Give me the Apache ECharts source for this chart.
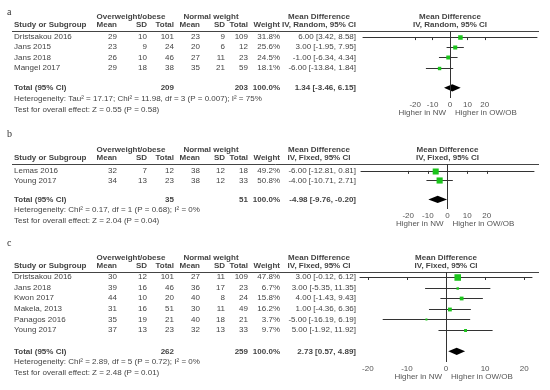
<!DOCTYPE html>
<html><head><meta charset="utf-8">
<script src="https://cdn.jsdelivr.net/npm/echarts@6/dist/echarts.min.js"></script>
<style>html,body{margin:0;padding:0;background:#fff}#c{width:550px;height:390px}</style>
</head><body><div id="c"></div>
<script>
// ---------- DATA ----------
const axisTicks = [-20, -10, 0, 10, 20];
const groupHeaders = ['Overweight/obese', 'Normal weight'];
const colHeaders = ['Study or Subgroup', 'Mean', 'SD', 'Total', 'Mean', 'SD', 'Total', 'Weight'];
const effectHeader = 'Mean Difference';
const favourLabels = ['Higher in NW', 'Higher in OW/OB'];

// panel a
const aStudies = ['Dristsakou 2016', 'Jans 2015', 'Jans 2018', 'Mangel 2017'];
const aOwMean = [29, 23, 26, 29];
const aOwSD = [10, 9, 10, 18];
const aOwN = [101, 24, 46, 38];
const aNwMean = [23, 20, 27, 35];
const aNwSD = [9, 6, 11, 21];
const aNwN = [109, 12, 23, 59];
const aWeight = [31.8, 25.6, 24.5, 18.1];
const aMD = [6.00, 3.00, -1.00, -6.00];
const aLo = [3.42, -1.95, -6.34, -13.84];
const aHi = [8.58, 7.95, 4.34, 1.84];
const aTotalN = [209, 203];
const aTotalMD = [1.34, -3.46, 6.15];
const aMethod = 'IV, Random, 95% CI';
const aHet = 'Heterogeneity: Tau\u00b2 = 17.17; Chi\u00b2 = 11.98, df = 3 (P = 0.007); I\u00b2 = 75%';
const aTest = 'Test for overall effect: Z = 0.55 (P = 0.58)';

// panel b
const bStudies = ['Lemas 2016', 'Young 2017'];
const bOwMean = [32, 34];
const bOwSD = [7, 13];
const bOwN = [12, 23];
const bNwMean = [38, 38];
const bNwSD = [12, 12];
const bNwN = [18, 33];
const bWeight = [49.2, 50.8];
const bMD = [-6.00, -4.00];
const bLo = [-12.81, -10.71];
const bHi = [0.81, 2.71];
const bTotalN = [35, 51];
const bTotalMD = [-4.98, -9.76, -0.20];
const bMethod = 'IV, Fixed, 95% CI';
const bHet = 'Heterogeneity: Chi\u00b2 = 0.17, df = 1 (P = 0.68); I\u00b2 = 0%';
const bTest = 'Test for overall effect: Z = 2.04 (P = 0.04)';

// panel c
const cStudies = ['Dristsakou 2016', 'Jans 2018', 'Kwon 2017', 'Makela, 2013', 'Panagos 2016', 'Young 2017'];
const cOwMean = [30, 39, 44, 31, 35, 37];
const cOwSD = [12, 16, 10, 16, 19, 13];
const cOwN = [101, 46, 20, 51, 21, 23];
const cNwMean = [27, 36, 40, 30, 40, 32];
const cNwSD = [11, 17, 8, 11, 18, 13];
const cNwN = [109, 23, 24, 49, 21, 33];
const cWeight = [47.8, 6.7, 15.8, 16.2, 3.7, 9.7];
const cMD = [3.00, 3.00, 4.00, 1.00, -5.00, 5.00];
const cLo = [-0.12, -5.35, -1.43, -4.36, -16.19, -1.92];
const cHi = [6.12, 11.35, 9.43, 6.36, 6.19, 11.92];
const cTotalN = [262, 259];
const cTotalMD = [2.73, 0.57, 4.89];
const cMethod = 'IV, Fixed, 95% CI';
const cHet = 'Heterogeneity: Chi\u00b2 = 2.89, df = 5 (P = 0.72); I\u00b2 = 0%';
const cTest = 'Test for overall effect: Z = 2.48 (P = 0.01)';

// ---------- LAYOUT ----------
const panels = [
  {letter: 'a', studies: aStudies, owMean: aOwMean, owSD: aOwSD, owN: aOwN, nwMean: aNwMean, nwSD: aNwSD, nwN: aNwN,
   weight: aWeight, md: aMD, lo: aLo, hi: aHi, totN: aTotalN, totMD: aTotalMD, method: aMethod, het: aHet, test: aTest,
   left: 363, right: 537, top: 31, bottom: 98, yMin: -0.6, xr: 50, k: 0.8, letterDy: -19},
  {letter: 'b', studies: bStudies, owMean: bOwMean, owSD: bOwSD, owN: bOwN, nwMean: bNwMean, nwSD: bNwSD, nwN: bNwN,
   weight: bWeight, md: bMD, lo: bLo, hi: bHi, totN: bTotalN, totMD: bTotalMD, method: bMethod, het: bHet, test: bTest,
   left: 361, right: 534, top: 164, bottom: 209, yMin: -0.72, xr: 44, k: 0.86, letterDy: -30},
  {letter: 'c', studies: cStudies, owMean: cOwMean, owSD: cOwSD, owN: cOwN, nwMean: cNwMean, nwSD: cNwSD, nwN: cNwN,
   weight: cWeight, md: cMD, lo: cLo, hi: cHi, totN: cTotalN, totMD: cTotalMD, method: cMethod, het: cHet, test: cTest,
   left: 360, right: 532, top: 272, bottom: 362, yMin: -0.47, xr: 22, k: 0.95, letterDy: -29}
];
const colX = {study: 14, owMean: 117, owSD: 147, owN: 174, nwMean: 200, nwSD: 225, nwN: 248, weight: 280, md: 356, mdCenter: 319, owCenter: 131, nwCenter: 211};
const FONT = '"Liberation Sans", Arial, sans-serif';
const TXT = '#444';
const GREEN = '#1bc41b';

const chart = echarts.init(document.getElementById('c'));

const grids = [], xAxes = [], yAxes = [], series = [];
panels.forEach((p, i) => {
  const n = p.studies.length;
  grids.push({left: p.left, top: p.top, width: p.right - p.left, height: p.bottom - p.top});
  xAxes.push({type: 'value', gridIndex: i, min: -p.xr, max: p.xr,
    axisLine: {show: true, lineStyle: {color: '#333', width: 1}},
    axisTick: {show: true, length: 3, customValues: axisTicks, lineStyle: {color: '#333'}},
    axisLabel: {show: true, customValues: axisTicks, margin: 3, fontSize: 8, fontFamily: FONT, color: '#555'},
    splitLine: {show: false}});
  yAxes.push({type: 'value', gridIndex: i, inverse: true, min: p.yMin, max: n + 2, show: false});
  const k = p.k;
  series.push({
    type: 'custom', xAxisIndex: i, yAxisIndex: i, silent: true,
    data: p.md.map((m, j) => [m, p.lo[j], p.hi[j], j, p.weight[j]]),
    encode: {x: [0, 1, 2], y: 3},
    renderItem: function (params, api) {
      const y = api.value(3);
      const a = api.coord([api.value(1), y]);
      const b = api.coord([api.value(2), y]);
      const e = api.coord([api.value(0), y]);
      const yy = Math.round(e[1]) + 0.5;
      const s = Math.max(2, k * Math.sqrt(api.value(4)));
      return {type: 'group', children: [
        {type: 'line', shape: {x1: a[0], y1: yy, x2: b[0], y2: yy}, style: {stroke: '#333', lineWidth: 1}},
        {type: 'rect', shape: {x: e[0] - s / 2, y: yy - s / 2, width: s, height: s}, style: {fill: GREEN}}
      ]};
    },
    markLine: {silent: true, symbol: ['none', 'none'], label: {show: false},
      lineStyle: {type: 'solid', color: '#333', width: 1}, data: [{xAxis: 0}]}
  });
  series.push({
    type: 'custom', xAxisIndex: i, yAxisIndex: i, silent: true,
    data: [[p.totMD[0], p.totMD[1], p.totMD[2], n + 1]],
    encode: {x: [0, 1, 2], y: 3},
    renderItem: function (params, api) {
      const y = api.value(3);
      const l = api.coord([api.value(1), y]);
      const r = api.coord([api.value(2), y]);
      const m = api.coord([api.value(0), y]);
      const h = 3.6;
      return {type: 'polygon', shape: {points: [[l[0], m[1]], [m[0], m[1] - h], [r[0], m[1]], [m[0], m[1] + h]]},
        style: {fill: '#000'}};
    }
  });
});

chart.setOption({animation: false, grid: grids, xAxis: xAxes, yAxis: yAxes, series: series});

// ---------- TABLE TEXT ----------
function txt(text, x, y, align, bold, opts) {
  opts = opts || {};
  return {type: 'text', silent: true, style: {
    text: String(text), x: x, y: y,
    font: (bold ? 'bold ' : '') + (opts.size || 8) + 'px ' + (opts.family || FONT),
    fill: opts.fill || TXT,
    align: align, textAlign: align, verticalAlign: 'middle', textVerticalAlign: 'middle'}};
}
const f2 = v => v.toFixed(2);
const mdText = (m, l, h) => f2(m) + ' [' + f2(l) + ', ' + f2(h) + ']';

const els = [];
panels.forEach((p, i) => {
  const n = p.studies.length;
  const Y = r => chart.convertToPixel({yAxisIndex: i}, r);
  const X = v => chart.convertToPixel({xAxisIndex: i}, v);
  const top = p.top, zx = X(0);
  els.push(txt(p.letter, 7, top + p.letterDy, 'left', false, {size: 10, family: '"Liberation Serif", serif', fill: '#333'}));
  const gy = top - 14.5, hy = top - 6;
  els.push(txt(groupHeaders[0], colX.owCenter, gy, 'center', true));
  els.push(txt(groupHeaders[1], colX.nwCenter, gy, 'center', true));
  els.push(txt(effectHeader, colX.mdCenter, gy, 'center', true));
  els.push(txt(effectHeader, zx, gy, 'center', true));
  const hx = [colX.study, colX.owMean, colX.owSD, colX.owN, colX.nwMean, colX.nwSD, colX.nwN, colX.weight];
  colHeaders.forEach((h, j) => els.push(txt(h, hx[j], hy, j === 0 ? 'left' : 'right', true)));
  els.push(txt(p.method, colX.mdCenter, hy, 'center', true));
  els.push(txt(p.method, zx, hy, 'center', true));
  els.push({type: 'line', silent: true, shape: {x1: 12, y1: top + 0.5, x2: 539, y2: top + 0.5}, style: {stroke: '#444', lineWidth: 1}});
  p.studies.forEach((s, j) => {
    const y = Y(j);
    els.push(txt(s, colX.study, y, 'left'));
    els.push(txt(p.owMean[j], colX.owMean, y, 'right'));
    els.push(txt(p.owSD[j], colX.owSD, y, 'right'));
    els.push(txt(p.owN[j], colX.owN, y, 'right'));
    els.push(txt(p.nwMean[j], colX.nwMean, y, 'right'));
    els.push(txt(p.nwSD[j], colX.nwSD, y, 'right'));
    els.push(txt(p.nwN[j], colX.nwN, y, 'right'));
    els.push(txt(p.weight[j].toFixed(1) + '%', colX.weight, y, 'right'));
    els.push(txt(mdText(p.md[j], p.lo[j], p.hi[j]), colX.md, y, 'right'));
  });
  const ty = Y(n + 1);
  els.push(txt('Total (95% CI)', colX.study, ty, 'left', true));
  els.push(txt(p.totN[0], colX.owN, ty, 'right', true));
  els.push(txt(p.totN[1], colX.nwN, ty, 'right', true));
  els.push(txt('100.0%', colX.weight, ty, 'right', true));
  els.push(txt(mdText(p.totMD[0], p.totMD[1], p.totMD[2]), colX.md, ty, 'right', true));
  els.push(txt(p.het, colX.study, ty + 10.7, 'left'));
  els.push(txt(p.test, colX.study, ty + 21.5, 'left'));
  const by = p.bottom + 15;
  els.push(txt(favourLabels[0], zx - 4, by, 'right', false, {fill: '#555'}));
  els.push(txt(favourLabels[1], zx + 5, by, 'left', false, {fill: '#555'}));
});
chart.setOption({graphic: {elements: els}});
</script>
</body></html>
